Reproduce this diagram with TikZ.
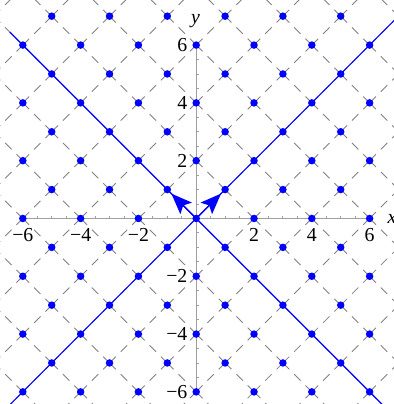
\documentclass[tikz,border=0pt]{standalone}
\usepackage{fontspec}
\setmainfont{Liberation Serif}
\usetikzlibrary{arrows.meta}

\begin{document}
\begin{tikzpicture}[
        x=1cm, y=1cm,
        grid/.style={gray, line width=0.85pt, dash pattern=on 0.62cm off 0.24cm on 0.3142cm off 0.24cm, dash phase=0.31cm},
        axis/.style={gray!75, line width=0.9pt},
        eigen/.style={blue, line width=1.1pt},
        vec/.style={-{Stealth[length=0.72cm, width=0.56cm, inset=0.14cm]}, blue, line width=1.3pt},
        pt/.style={circle, fill=blue, inner sep=0pt, minimum size=0.26cm},
        ticklabel/.style={font=\fontsize{19.5}{19.5}\selectfont, inner sep=0pt}
    ]
        \useasboundingbox (-6.79,-6.42) rectangle (6.84,7.56);

        \begin{scope}
            \clip (-6.79,-6.42) rectangle (6.84,7.56);
            % Dashed diagonals
            \foreach \k in {-8,...,8} {
                \draw[grid] (-9,{-9+2*\k}) -- (9,{9+2*\k});
                \draw[grid] (-9,{9+2*\k}) -- (9,{-9+2*\k});
            }

            % Axes
            \draw[axis] (-6,0) -- (6,0);
            \draw[axis] (0,-6) -- (0,6);
            \foreach \t in {-6,-5.5,...,6} {
                \draw[axis] (\t,0) -- (\t,0.09);
                \draw[axis] (0,\t) -- (0.09,\t);
            }

            % Lines y = x and y = -x
            \draw[eigen] (-6.5,-6.5) -- (7.2,7.2);
            \draw[eigen] (-6.45,6.45) -- (6.5,-6.5);
        \end{scope}

        % Vectors
        \coordinate (O) at (0,0);
        \coordinate (u) at (0.86,0.86);
        \coordinate (w) at (-0.86,0.86);
        \draw[vec] (O) -- (u);
        \draw[vec] (O) -- (w);

        % Lattice points
        \foreach \i in {-6,...,6} {
            \foreach \j in {-6,...,7} {
                \pgfmathtruncatemacro{\s}{\i+\j}
                \ifodd\s\else
                    \node[pt] (p\i\j) at (\i,\j) {};
                \fi
            }
        }

        % Tick labels
        \foreach \v/\txt in {-6/−6, -4/−4, -2/−2, 2/2, 4/4, 6/6} {
            \node[ticklabel] (xl\v) at (\v,-0.57) {\txt};
            \node[ticklabel, anchor=east] (yl\v) at (-0.3,\v) {\txt};
        }

        % Axis labels
        \node[ticklabel, anchor=base] (ylab) at (-0.02,6.76) {\itshape y};
        \node[ticklabel, anchor=west] (xlab) at (6.62,0) {\itshape x};
\end{tikzpicture}
\end{document}
